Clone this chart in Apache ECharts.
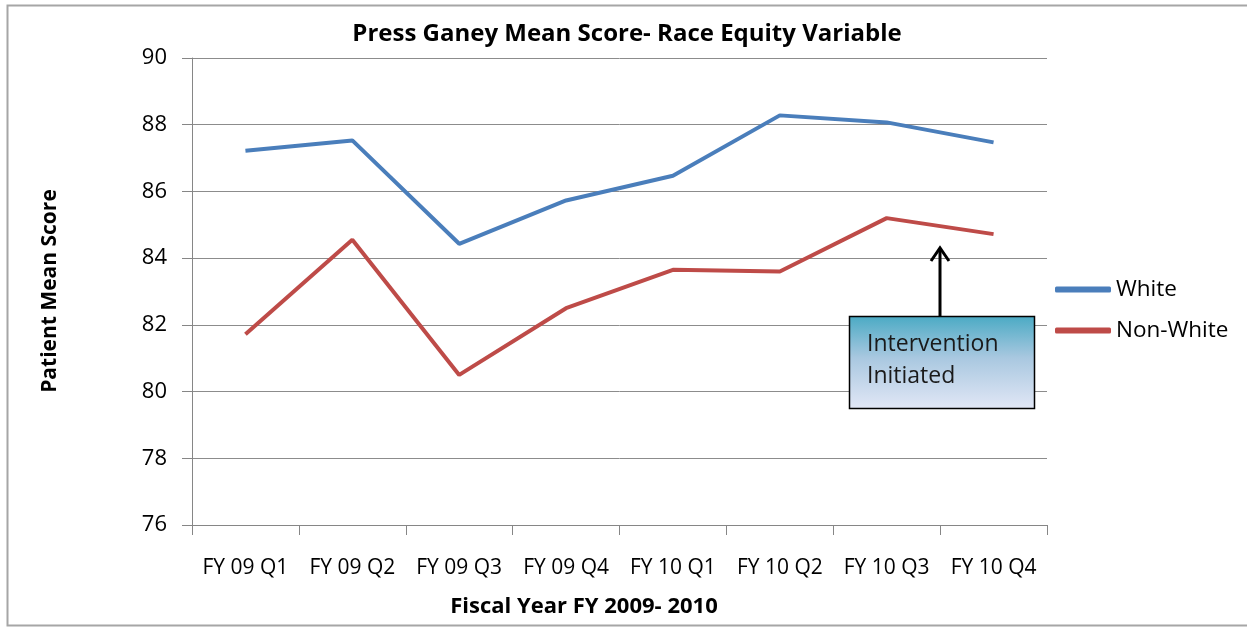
<!DOCTYPE html>
<html><head><meta charset="utf-8">
<script src="https://cdn.jsdelivr.net/npm/echarts@6/dist/echarts.min.js"></script>
<style>html,body{margin:0;padding:0;background:#fff}#c{width:1247px;height:628px}</style>
</head><body><div id="c"></div>
<script>
const categories = ['FY 09 Q1','FY 09 Q2','FY 09 Q3','FY 09 Q4','FY 10 Q1','FY 10 Q2','FY 10 Q3','FY 10 Q4'];
const white = [87.22, 87.53, 84.43, 85.73, 86.47, 88.28, 88.07, 87.47];
const nonWhite = [81.72, 84.55, 80.50, 82.50, 83.65, 83.60, 85.20, 84.72];
const seriesNames = ['White', 'Non-White'];
const titleText = 'Press Ganey Mean Score- Race Equity Variable';
const xTitle = 'Fiscal Year FY 2009- 2010';
const yTitle = 'Patient Mean Score';
const noteLines = 'Intervention\nInitiated';

const FONT = '"Open Sans", "Liberation Sans", sans-serif';
const chart = echarts.init(document.getElementById('c'), null, {renderer: 'canvas'});
chart.setOption({
  animation: false,
  backgroundColor: '#fff',
  title: {text: titleText, left: 622, top: 17, textAlign: 'center',
    textStyle: {fontFamily: FONT, fontSize: 24, fontWeight: 'bold', color: '#000'}},
  legend: {
    orient: 'vertical', left: 1050, top: 273, itemGap: 18, itemWidth: 56, itemHeight: 6,
    icon: 'roundRect',
    textStyle: {fontFamily: FONT, fontSize: 22.5, color: '#000'},
    data: seriesNames
  },
  grid: {left: 192, right: 200, top: 58, bottom: 103},
  xAxis: {
    type: 'category', data: categories, boundaryGap: true,
    axisLine: {lineStyle: {color: '#868686', width: 1}},
    axisTick: {show: true, length: 10, interval: 0, alignWithLabel: false, lineStyle: {color: '#868686'}},
    axisLabel: {fontFamily: FONT, fontSize: 21, color: '#000', margin: 33, interval: 0}
  },
  yAxis: {
    type: 'value', min: 76, max: 90, interval: 2,
    axisLine: {show: true, lineStyle: {color: '#868686', width: 1}},
    axisTick: {show: true, length: 10, lineStyle: {color: '#868686'}},
    axisLabel: {fontFamily: FONT, fontSize: 22, color: '#000', margin: 25},
    splitLine: {lineStyle: {color: '#8c8c8c', width: 1}}
  },
  series: [
    {name: seriesNames[0], type: 'line', data: white, symbol: 'none', color: '#4a7ebb',
     lineStyle: {width: 4, color: '#4a7ebb'}},
    {name: seriesNames[1], type: 'line', data: nonWhite, symbol: 'none', color: '#be4b48',
     lineStyle: {width: 4, color: '#be4b48'}}
  ],
  graphic: [
    {type: 'rect', shape: {x: 7.5, y: 5.5, width: 1250, height: 620}, silent: true,
     style: {fill: 'none', stroke: '#a6a6a6', lineWidth: 2}, z: -1},
    {type: 'text', x: 584, y: 607, style: {text: xTitle, font: 'bold 22px ' + FONT, fill: '#000', align: 'center', verticalAlign: 'middle'}},
    {type: 'text', x: 50, y: 291, rotation: Math.PI/2, style: {text: yTitle, font: 'bold 21px ' + FONT, fill: '#000', align: 'center', verticalAlign: 'middle'}},
    {type: 'line', shape: {x1: 940, y1: 316, x2: 940, y2: 248}, style: {stroke: '#000', lineWidth: 3}, z: 10},
    {type: 'polyline', shape: {points: [[931, 261], [940, 248], [949, 261]]}, style: {stroke: '#000', lineWidth: 3, fill: 'none'}, z: 10},
    {type: 'rect', shape: {x: 849.5, y: 316.5, width: 185, height: 92}, z: 10,
     style: {stroke: '#000', lineWidth: 1.5,
       fill: new echarts.graphic.LinearGradient(0, 0, 0, 1, [
         {offset: 0, color: '#4aaac4'}, {offset: 0.45, color: '#a9c8e0'}, {offset: 1, color: '#e2e7f6'}])}},
    {type: 'text', x: 867, y: 328, z: 11, style: {text: noteLines, font: '23px ' + FONT, fill: '#1a1a1a', lineHeight: 32}}
  ]
});
</script></body></html>
